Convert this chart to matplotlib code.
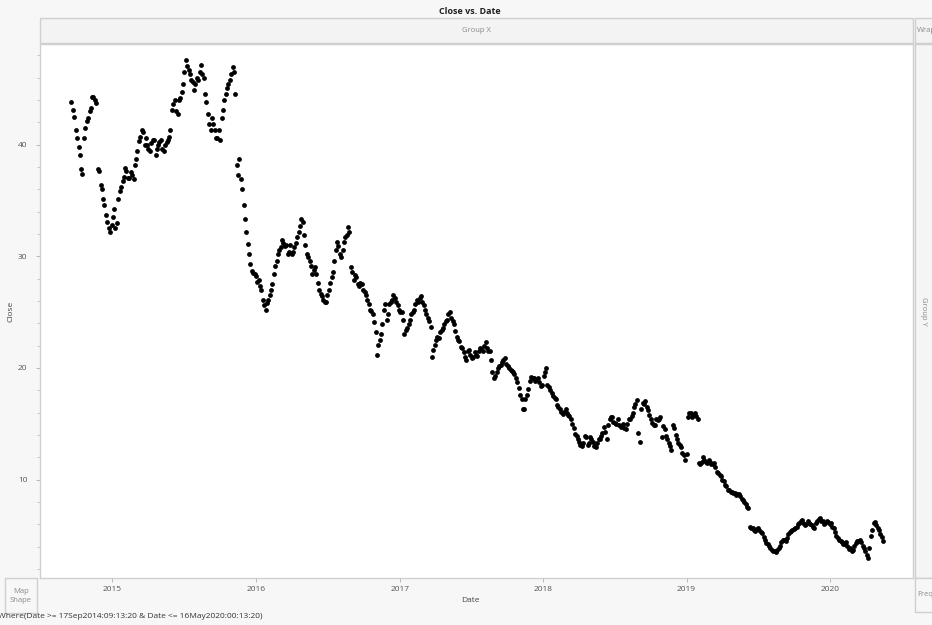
import matplotlib
matplotlib.use("Agg")
import matplotlib.pyplot as plt
import matplotlib.dates as mdates
from matplotlib.patches import Rectangle
from matplotlib.ticker import MultipleLocator
import pandas as pd

plt.rcParams["font.family"] = ["Open Sans", "DejaVu Sans"]

# Friday closes, one list per calendar year
fri_2014 = [43.8, 42.5, 40.6, 39.1, 37.4, 41.5, 42.4, 43.3, 44.3, 43.7,
            37.6, 36.0, 34.6, 33.1, 32.2]
fri_2015 = [33.5, 32.5, 35.1, 36.2, 37.1, 37.6, 37.0, 37.3, 38.2, 39.4,
            40.7, 41.1, 40.6, 39.6, 40.1, 40.4, 39.6, 40.2, 39.6, 40.0,
            40.4, 41.3, 43.6, 43.0, 44.0, 44.7, 46.5, 47.0, 46.3, 45.6,
            45.4, 45.8, 47.1, 46.0, 43.8, 41.8, 42.4, 41.3, 40.6, 40.4,
            43.1, 44.5, 45.4, 46.3, 46.5, 38.2, 38.7, 36.0, 33.3, 31.1,
            29.3, 28.5]
fri_2016 = [28.2, 27.9, 27.0, 25.6, 25.8, 26.5, 27.5, 29.1, 30.2, 30.8,
            31.2, 31.0, 30.4, 30.2, 30.8, 31.7, 32.7, 33.1, 31.0, 29.9,
            29.1, 28.8, 28.4, 27.0, 26.4, 25.9, 26.5, 27.6, 28.6, 30.6,
            30.9, 29.9, 31.3, 31.9, 32.2, 28.6, 28.3, 27.5, 27.6, 27.0,
            26.5, 25.7, 25.1, 24.1, 21.2, 22.5, 23.9, 25.7, 24.8, 25.9,
            26.5, 25.9, 25.2]
fri_2017 = [25.0, 23.0, 23.6, 24.3, 25.0, 25.7, 25.9, 26.4, 25.6, 24.8,
            24.2, 21.0, 22.1, 22.8, 23.2, 23.6, 24.2, 24.8, 24.5, 23.9,
            22.8, 22.4, 21.8, 21.0, 21.5, 21.2, 21.0, 21.2, 21.5, 21.7,
            22.0, 21.8, 21.5, 19.6, 19.3, 20.0, 20.3, 20.7, 20.4, 20.0,
            19.7, 19.5, 18.7, 17.6, 16.3, 17.2, 18.1, 19.2, 19.1, 19.0,
            18.7, 18.5]
fri_2018 = [19.6, 18.5, 18.0, 17.5, 17.2, 16.5, 16.1, 16.1, 16.0, 15.7,
            15.0, 14.1, 13.6, 13.1, 13.3, 13.8, 13.3, 13.6, 13.0, 13.3,
            13.6, 14.2, 14.3, 14.9, 15.6, 15.2, 15.0, 14.9, 14.8, 14.6,
            15.0, 15.4, 16.0, 16.8, 14.2, 16.3, 16.8, 16.5, 15.8, 15.1,
            14.9, 15.3, 15.6, 14.8, 13.9, 13.3, 12.7, 14.6, 13.6, 13.1,
            12.4, 11.8]
fri_2019 = [15.6, 16.0, 15.8, 15.7, 11.5, 11.6, 11.8, 11.5, 11.6, 11.4,
            11.1, 10.6, 10.3, 9.9, 9.4, 9.1, 8.9, 8.8, 8.7, 8.5,
            8.2, 7.8, 7.5, 5.7, 5.5, 5.6, 5.5, 5.2, 4.6, 4.2,
            3.9, 3.6, 3.5, 3.9, 4.4, 4.6, 4.8, 5.3, 5.5, 5.7,
            6.0, 6.3, 6.1, 6.0, 6.1, 5.9, 5.7, 6.3, 6.6, 6.3,
            6.1, 6.2]
fri_2020 = [6.1, 5.7, 5.0, 4.6, 4.4, 4.2, 4.1, 3.9, 3.7, 4.3,
            4.5, 4.4, 3.9, 3.3, 3.9, 5.5, 6.2, 5.7, 5.1, 4.5]

# Tuesday closes (the Tuesday after each Friday above)
tue_2014 = [43.1, 41.3, 39.8, 37.8, 40.6, 42.1, 43.0, 44.3, 44.0, 37.8,
            36.4, 35.1, 33.7, 32.5, 32.8]
tue_2015 = [34.2, 33.0, 35.8, 36.7, 37.9, 37.0, 37.5, 36.9, 38.7, 40.3,
            41.3, 40.0, 40.0, 39.4, 40.4, 39.1, 40.0, 40.4, 39.4, 40.2,
            40.7, 43.1, 44.0, 42.7, 44.2, 45.4, 47.6, 46.7, 45.8, 44.9,
            46.0, 46.5, 46.3, 44.5, 42.7, 41.3, 41.8, 40.6, 41.3, 42.4,
            44.0, 45.1, 45.8, 46.9, 44.5, 37.3, 36.9, 34.6, 32.2, 30.2,
            28.7, 28.4]
tue_2016 = [27.7, 27.3, 26.1, 25.2, 26.1, 27.0, 28.4, 29.6, 30.6, 31.5,
            30.9, 30.2, 31.0, 30.4, 31.2, 32.2, 33.3, 31.9, 30.2, 29.6,
            28.4, 29.0, 27.6, 26.6, 26.1, 25.9, 27.0, 28.1, 29.6, 31.3,
            30.2, 30.6, 31.7, 32.6, 29.0, 27.9, 28.1, 27.3, 27.5, 26.8,
            26.1, 25.2, 24.8, 23.2, 22.1, 23.0, 25.2, 24.3, 25.7, 26.1,
            26.3, 25.6, 25.0]
tue_2017 = [24.3, 23.4, 23.9, 24.8, 25.2, 26.1, 26.3, 25.9, 25.2, 24.5,
            23.7, 21.6, 22.5, 22.7, 23.4, 23.9, 24.3, 25.0, 24.2, 23.3,
            22.5, 21.9, 21.4, 20.7, 21.6, 20.9, 21.4, 21.1, 21.8, 21.5,
            22.3, 21.5, 20.7, 19.1, 19.6, 20.2, 20.5, 20.9, 20.2, 19.8,
            19.6, 19.1, 18.2, 17.2, 16.3, 17.6, 18.8, 19.1, 18.8, 19.1,
            18.4, 19.3]
tue_2018 = [20.0, 18.3, 17.8, 17.3, 16.7, 16.3, 15.9, 16.3, 15.8, 15.4,
            14.6, 13.9, 13.4, 13.0, 13.9, 13.1, 13.8, 13.4, 12.9, 13.6,
            13.9, 14.7, 13.6, 15.4, 15.6, 15.1, 15.4, 14.7, 15.0, 14.5,
            15.4, 15.7, 16.5, 17.1, 13.4, 16.9, 17.0, 16.2, 15.4, 14.9,
            15.4, 15.4, 13.8, 14.5, 13.6, 13.0, 14.9, 14.0, 13.3, 12.9,
            12.2, 12.3]
tue_2019 = [16.0, 15.6, 16.0, 15.4, 11.4, 12.0, 11.6, 11.8, 11.4, 11.5,
            10.7, 10.4, 10.0, 9.5, 9.1, 8.9, 8.8, 8.6, 8.7, 8.3,
            8.0, 7.6, 5.8, 5.7, 5.4, 5.7, 5.3, 4.9, 4.3, 4.1,
            3.7, 3.6, 3.7, 4.1, 4.6, 4.5, 5.1, 5.4, 5.6, 5.8,
            6.1, 6.4, 5.9, 6.3, 6.0, 5.8, 6.1, 6.5, 6.3, 6.0,
            6.3, 6.0]
tue_2020 = [5.8, 5.3, 4.8, 4.5, 4.2, 4.4, 3.8, 3.6, 4.1, 4.5,
            4.6, 4.1, 3.6, 3.0, 5.0, 6.1, 5.9, 5.5, 4.9]

# first Friday of each year's series
year_starts = ["2014-09-19", "2015-01-02", "2016-01-01", "2017-01-06",
               "2018-01-05", "2019-01-04", "2020-01-03"]
fri_closes = [fri_2014, fri_2015, fri_2016, fri_2017, fri_2018, fri_2019, fri_2020]
tue_closes = [tue_2014, tue_2015, tue_2016, tue_2017, tue_2018, tue_2019, tue_2020]

dates = []
closes = []
for start, fri, tue in zip(year_starts, fri_closes, tue_closes):
    fridays = pd.date_range(start, periods=len(fri), freq="W-FRI")
    dates.extend(fridays)
    closes.extend(fri)
    dates.extend(fridays[:len(tue)] + pd.Timedelta(days=4))
    closes.extend(tue)

W, H = 932, 625
BG = "#f7f7f7"
EDGE = "#cfcfcf"
GREY_TXT = "#8a8a8a"


def fx(px):
    return px / W


def fy(py):
    return 1 - py / H


def box(x0, y0, x1, y1, face=BG):
    fig.add_artist(Rectangle((fx(x0), fy(y1)), fx(x1) - fx(x0), fy(y0) - fy(y1),
                             transform=fig.transFigure, facecolor=face,
                             edgecolor=EDGE, linewidth=1.0))


fig = plt.figure(figsize=(W / 100, H / 100), dpi=100, facecolor=BG)

# header strips and side boxes
box(40, 18, 913, 43, face="#f3f3f3")
box(915, 18, 940, 43, face="#f3f3f3")
box(915, 44, 940, 578, face="#f5f5f5")
box(5, 578, 37, 613)
box(915, 578, 940, 612)

ax = fig.add_axes([fx(40), fy(578), fx(913) - fx(40), fy(44) - fy(578)])
ax.set_facecolor("white")
ax.scatter(dates, closes, s=12, color="black", linewidths=0, zorder=3)

ax.set_xlim(pd.Timestamp("2014-07-01"), pd.Timestamp("2020-07-30"))
ax.set_ylim(1.2, 49.0)
ax.xaxis.set_major_locator(mdates.YearLocator())
ax.xaxis.set_major_formatter(mdates.DateFormatter("%Y"))
ax.yaxis.set_major_locator(MultipleLocator(10))
ax.yaxis.set_minor_locator(MultipleLocator(2))

for side in ax.spines.values():
    side.set_color(EDGE)
    side.set_linewidth(1.0)
ax.tick_params(axis="both", which="major", length=3, width=0.6, color="#b0b0b0",
               labelsize=6, labelcolor="#555555")
ax.tick_params(axis="y", which="minor", length=2, width=0.6, color="#c0c0c0")
ax.tick_params(axis="y", pad=6)
ax.tick_params(axis="x", pad=3)

fig.text(fx(470), fy(11), "Close vs. Date", ha="center", va="center",
         fontsize=6.5, fontweight="bold", color="#222222")
fig.text(fx(476), fy(31), "Group X", ha="center", va="center",
         fontsize=5.5, color=GREY_TXT)
fig.text(fx(917), fy(31), "Wrap", ha="left", va="center",
         fontsize=5.5, color=GREY_TXT)
fig.text(fx(924), fy(311), "Group Y", ha="center", va="center", rotation=-90,
         fontsize=5.5, color=GREY_TXT)
fig.text(fx(917), fy(595), "Freq", ha="left", va="center",
         fontsize=5.5, color=GREY_TXT)
fig.text(fx(21), fy(596), "Map\nShape", ha="center", va="center",
         fontsize=5.5, color=GREY_TXT, linespacing=1.4)
fig.text(fx(11), fy(311), "Close", ha="center", va="center", rotation=90,
         fontsize=6, color="#444444")
fig.text(fx(470), fy(601), "Date", ha="center", va="center",
         fontsize=6, color="#444444")
fig.text(fx(263), fy(617), "Where(Date >= 17Sep2014:09:13:20 & Date <= 16May2020:00:13:20)",
         ha="right", va="center", fontsize=6, color="#333333")

fig.savefig("out.png", dpi=100, facecolor=BG)
